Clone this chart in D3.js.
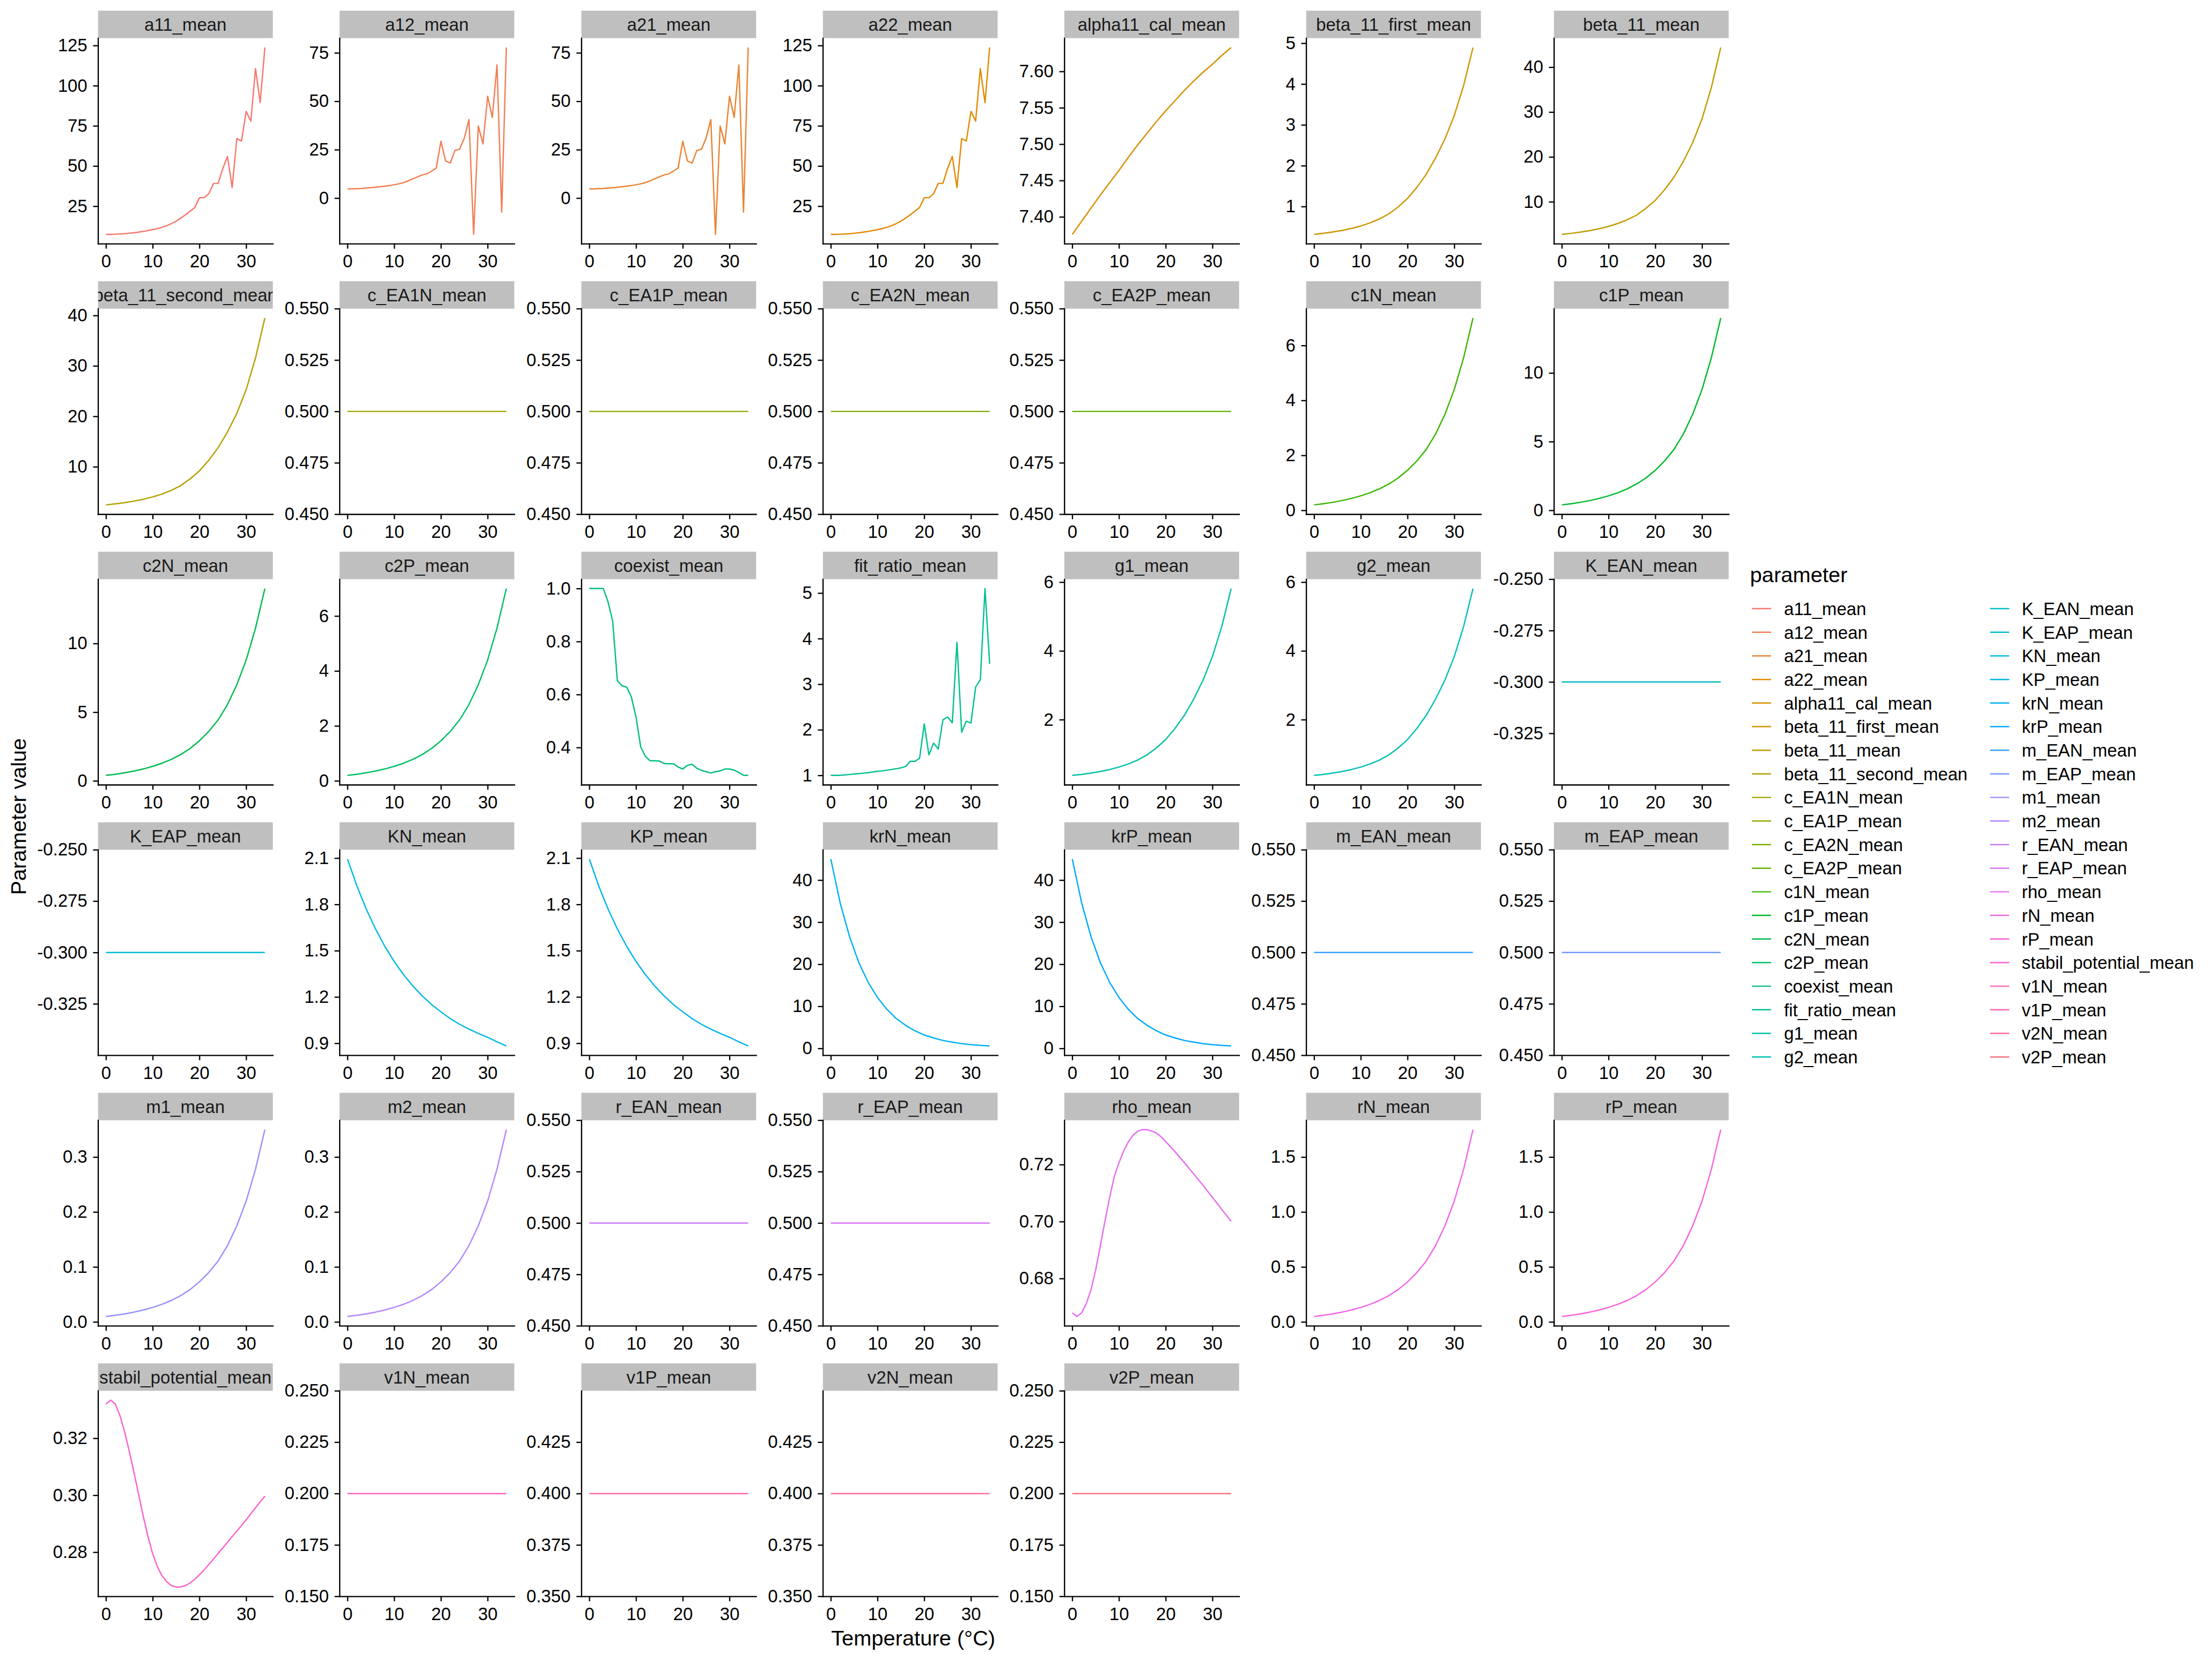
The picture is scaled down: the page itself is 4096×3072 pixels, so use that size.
<!DOCTYPE html>
<html><head><meta charset="utf-8">
<script src="https://cdn.jsdelivr.net/npm/d3@7"></script>
<style>body{margin:0;background:#fff} svg{display:block}</style>
</head><body>
<svg id="chart" width="4096" height="3072"></svg>
<script>
// ---------------- DATA ----------------
const T1 = [0,1,2,3,4,5,6,7,8,9,10,11,12,13,14,15,16,17,18,19,20,21,22,23,24,25,26,27,28,29,30,31,32,33,34];
const T2 = [0,2,4,6,8,10,12,14,16,18,20,22,24,26,28,30,32,34];
const Tc = [0,34];

const a11_mean = [7.5,7.5,7.6,7.7,7.9,8.2,8.5,8.9,9.3,9.9,10.4,11.1,11.9,12.9,14.2,15.7,17.6,19.7,21.9,24.2,30.3,30.3,32.8,39.2,39.2,48.5,56.0,36.6,67.1,65.6,84.0,78.0,110.6,89.5,123.8];
const a12_mean = [4.8,4.8,4.9,5.0,5.2,5.4,5.6,5.9,6.2,6.5,6.9,7.4,8.0,8.9,10.0,11.0,12.0,12.5,14.0,15.5,29.4,19.2,18.1,24.6,25.3,31.0,40.6,-18.7,37.3,28.0,52.6,41.7,68.8,-7.2,77.8];
const a21_mean = [4.8,4.8,4.9,5.0,5.2,5.4,5.6,5.9,6.2,6.5,6.9,7.4,8.0,8.9,10.0,11.0,12.0,12.5,14.0,15.5,29.4,19.2,18.1,24.6,25.3,31.0,40.6,-18.7,37.3,28.0,52.6,41.7,68.8,-7.2,77.8];
const a22_mean = [7.5,7.5,7.6,7.7,7.9,8.2,8.5,8.9,9.3,9.9,10.4,11.1,11.9,12.9,14.2,15.7,17.6,19.7,21.9,24.2,30.3,30.3,32.8,39.2,39.2,48.5,56.0,36.6,67.1,65.6,84.0,78.0,110.6,89.5,123.8];
const alpha11_cal_mean = [7.376,7.394,7.412,7.430,7.447,7.464,7.482,7.499,7.515,7.531,7.546,7.560,7.574,7.587,7.599,7.610,7.622,7.633];
const beta_11_first_mean = [0.32,0.346,0.378,0.416,0.464,0.525,0.602,0.698,0.822,0.992,1.2,1.472,1.792,2.192,2.656,3.232,3.968,4.896];
const beta_11_mean = [2.75,2.97,3.25,3.58,4.0,4.52,5.18,6.0,7.05,8.55,10.35,12.7,15.5,19.0,23.2,28.5,35.5,44.4];
const beta_11_second_mean = [2.45,2.65,2.9,3.2,3.57,4.03,4.6,5.35,6.28,7.6,9.2,11.3,13.8,16.9,20.6,25.3,31.6,39.5];
const c_EA1N_mean = [0.5,0.5];
const c_EA1P_mean = [0.5,0.5];
const c_EA2N_mean = [0.5,0.5];
const c_EA2P_mean = [0.5,0.5];
const c1N_mean = [0.2,0.242,0.294,0.358,0.436,0.53,0.644,0.784,0.96,1.18,1.46,1.8,2.22,2.78,3.5,4.4,5.56,7.0];
const c1P_mean = [0.4,0.484,0.588,0.716,0.872,1.06,1.288,1.568,1.92,2.36,2.92,3.6,4.44,5.56,7.0,8.8,11.12,14.0];
const c2N_mean = [0.4,0.484,0.588,0.716,0.872,1.06,1.288,1.568,1.92,2.36,2.92,3.6,4.44,5.56,7.0,8.8,11.12,14.0];
const c2P_mean = [0.2,0.242,0.294,0.358,0.436,0.53,0.644,0.784,0.96,1.18,1.46,1.8,2.22,2.78,3.5,4.4,5.56,7.0];
const coexist_mean = [1.0,1.0,1.0,1.0,0.95,0.877,0.652,0.633,0.628,0.591,0.514,0.402,0.367,0.350,0.350,0.349,0.340,0.339,0.339,0.327,0.319,0.333,0.337,0.322,0.314,0.309,0.304,0.309,0.312,0.319,0.319,0.315,0.306,0.295,0.295];
const fit_ratio_mean = [1.0,1.0,1.005,1.01,1.02,1.03,1.04,1.05,1.06,1.075,1.09,1.10,1.115,1.13,1.145,1.165,1.195,1.31,1.31,1.375,2.13,1.45,1.71,1.58,2.22,2.28,2.155,3.92,1.95,2.19,2.15,2.94,3.10,5.10,3.45];
const g1_mean = [0.38,0.41,0.448,0.494,0.551,0.623,0.714,0.828,0.977,1.178,1.425,1.748,2.128,2.603,3.154,3.838,4.712,5.814];
const g2_mean = [0.38,0.41,0.448,0.494,0.551,0.623,0.714,0.828,0.977,1.178,1.425,1.748,2.128,2.603,3.154,3.838,4.712,5.814];
const K_EAN_mean = [-0.3,-0.3];
const K_EAP_mean = [-0.3,-0.3];
const KN_mean = [2.094,1.921,1.771,1.641,1.528,1.430,1.345,1.271,1.207,1.151,1.104,1.060,1.023,0.992,0.964,0.939,0.910,0.883];
const KP_mean = [2.094,1.921,1.771,1.641,1.528,1.430,1.345,1.271,1.207,1.151,1.104,1.060,1.023,0.992,0.964,0.939,0.910,0.883];
const krN_mean = [45.0,34.6,26.6,20.4,15.7,12.1,9.3,7.1,5.5,4.2,3.2,2.5,1.9,1.5,1.15,0.9,0.72,0.6];
const krP_mean = [45.0,34.6,26.6,20.4,15.7,12.1,9.3,7.1,5.5,4.2,3.2,2.5,1.9,1.5,1.15,0.9,0.72,0.6];
const m_EAN_mean = [0.5,0.5];
const m_EAP_mean = [0.5,0.5];
const m1_mean = [0.01,0.0121,0.0147,0.0179,0.0218,0.0265,0.0322,0.0392,0.048,0.059,0.073,0.09,0.111,0.139,0.175,0.22,0.278,0.35];
const m2_mean = [0.01,0.0121,0.0147,0.0179,0.0218,0.0265,0.0322,0.0392,0.048,0.059,0.073,0.09,0.111,0.139,0.175,0.22,0.278,0.35];
const r_EAN_mean = [0.5,0.5];
const r_EAP_mean = [0.5,0.5];
const rho_mean = [0.668,0.6667,0.668,0.6712,0.6760,0.6830,0.6915,0.7002,0.7085,0.7159,0.7207,0.7248,0.7280,0.7303,0.7317,0.7323,0.7323,0.7318,0.7311,0.7298,0.7281,0.7263,0.7245,0.7226,0.7207,0.7187,0.7167,0.7147,0.7127,0.7106,0.7085,0.7064,0.7043,0.7022,0.7001];
const rN_mean = [0.05,0.0605,0.0735,0.0895,0.109,0.1325,0.161,0.196,0.24,0.295,0.365,0.45,0.555,0.695,0.875,1.1,1.39,1.75];
const rP_mean = [0.05,0.0605,0.0735,0.0895,0.109,0.1325,0.161,0.196,0.24,0.295,0.365,0.45,0.555,0.695,0.875,1.1,1.39,1.75];
const stabil_potential_mean = [0.3320,0.3334,0.3320,0.3279,0.3222,0.3153,0.3079,0.3002,0.2924,0.2854,0.2794,0.2749,0.2717,0.2696,0.2683,0.2678,0.2678,0.2683,0.2692,0.2705,0.2721,0.2738,0.2757,0.2776,0.2796,0.2815,0.2835,0.2855,0.2874,0.2894,0.2914,0.2935,0.2956,0.2977,0.2997];
const v1N_mean = [0.2,0.2];
const v1P_mean = [0.4,0.4];
const v2N_mean = [0.4,0.4];
const v2P_mean = [0.2,0.2];

// tick labels
const xTicks = [0,10,20,30];
const ticks_a11 = ["25","50","75","100","125"];
const ticks_a12 = ["0","25","50","75"];
const ticks_alpha = ["7.40","7.45","7.50","7.55","7.60"];
const ticks_beta1 = ["1","2","3","4","5"];
const ticks_beta = ["10","20","30","40"];
const ticks_half = ["0.450","0.475","0.500","0.525","0.550"];
const ticks_c1N = ["0","2","4","6"];
const ticks_c1P = ["0","5","10"];
const ticks_coexist = ["0.4","0.6","0.8","1.0"];
const ticks_fit = ["1","2","3","4","5"];
const ticks_g = ["2","4","6"];
const ticks_K = ["-0.325","-0.300","-0.275","-0.250"];
const ticks_KN = ["0.9","1.2","1.5","1.8","2.1"];
const ticks_kr = ["0","10","20","30","40"];
const ticks_m = ["0.0","0.1","0.2","0.3"];
const ticks_rho = ["0.68","0.70","0.72"];
const ticks_r = ["0.0","0.5","1.0","1.5"];
const ticks_stabil = ["0.28","0.30","0.32"];
const ticks_v02 = ["0.150","0.175","0.200","0.225","0.250"];
const ticks_v04 = ["0.350","0.375","0.400","0.425"];

const parameters = ["a11_mean","a12_mean","a21_mean","a22_mean","alpha11_cal_mean","beta_11_first_mean","beta_11_mean","beta_11_second_mean","c_EA1N_mean","c_EA1P_mean","c_EA2N_mean","c_EA2P_mean","c1N_mean","c1P_mean","c2N_mean","c2P_mean","coexist_mean","fit_ratio_mean","g1_mean","g2_mean","K_EAN_mean","K_EAP_mean","KN_mean","KP_mean","krN_mean","krP_mean","m_EAN_mean","m_EAP_mean","m1_mean","m2_mean","r_EAN_mean","r_EAP_mean","rho_mean","rN_mean","rP_mean","stabil_potential_mean","v1N_mean","v1P_mean","v2N_mean","v2P_mean"];

// table built from the arrays above (same order as parameters)
const panels = [
  [T1,a11_mean,ticks_a11],[T1,a12_mean,ticks_a12],[T1,a21_mean,ticks_a12],[T1,a22_mean,ticks_a11],
  [T2,alpha11_cal_mean,ticks_alpha],[T2,beta_11_first_mean,ticks_beta1],[T2,beta_11_mean,ticks_beta],
  [T2,beta_11_second_mean,ticks_beta],[Tc,c_EA1N_mean,ticks_half],[Tc,c_EA1P_mean,ticks_half],
  [Tc,c_EA2N_mean,ticks_half],[Tc,c_EA2P_mean,ticks_half],[T2,c1N_mean,ticks_c1N],[T2,c1P_mean,ticks_c1P],
  [T2,c2N_mean,ticks_c1P],[T2,c2P_mean,ticks_c1N],[T1,coexist_mean,ticks_coexist],[T1,fit_ratio_mean,ticks_fit],
  [T2,g1_mean,ticks_g],[T2,g2_mean,ticks_g],[Tc,K_EAN_mean,ticks_K],[Tc,K_EAP_mean,ticks_K],
  [T2,KN_mean,ticks_KN],[T2,KP_mean,ticks_KN],[T2,krN_mean,ticks_kr],[T2,krP_mean,ticks_kr],
  [Tc,m_EAN_mean,ticks_half],[Tc,m_EAP_mean,ticks_half],[T2,m1_mean,ticks_m],[T2,m2_mean,ticks_m],
  [Tc,r_EAN_mean,ticks_half],[Tc,r_EAP_mean,ticks_half],[T1,rho_mean,ticks_rho],[T2,rN_mean,ticks_r],
  [T2,rP_mean,ticks_r],[T1,stabil_potential_mean,ticks_stabil],[Tc,v1N_mean,ticks_v02],[Tc,v1P_mean,ticks_v04],
  [Tc,v2N_mean,ticks_v04],[Tc,v2P_mean,ticks_v02]
].map((p,i)=>({name:parameters[i], xs:p[0], ys:p[1], ticks:p[2]}));

// ---------------- STYLE / LAYOUT (reference px, scaled) ----------------
const S = 4096/6000;
const FONT = "'Liberation Sans', Arial, Helvetica, sans-serif";
const colLeft = [266, 921, 1577, 2232, 2887, 3543, 4215];
const panelW = 474, rowPitch = 733.8, firstTop = 29, stripH = 74.5, panelBottomOff = 632;
const LW = 3.4;

// ggplot-like hue palette (polar LUV -> sRGB)
function hclHex(h, c, l) {
  const hr = h*Math.PI/180;
  const U = c*Math.cos(hr), V = c*Math.sin(hr);
  const Y = l > 8 ? 100*Math.pow((l+16)/116,3) : 100*l/903.3;
  const un = 0.1978398, vn = 0.4683363;
  const u = U/(13*l)+un, v = V/(13*l)+vn;
  const X = 9*Y*u/(4*v);
  const Z = -X/3 - 5*Y + 3*Y/v;
  const x=X/100, y=Y/100, z=Z/100;
  const lin = [
    3.240479*x - 1.537150*y - 0.498535*z,
    -0.969256*x + 1.875992*y + 0.041556*z,
    0.055648*x - 0.204043*y + 1.057311*z];
  const gam = t => t<=0.0031308 ? 12.92*t : 1.055*Math.pow(t,1/2.4)-0.055;
  const [r,g,b] = lin.map(t => Math.round(255*Math.max(0,Math.min(1,gam(t)))));
  return d3.rgb(r,g,b).formatHex();
}
const nP = parameters.length;
const colors = parameters.map((_,i)=> hclHex((15 + i*360/nP) % 360, 100, 65));
const color = d3.scaleOrdinal().domain(parameters).range(colors);

const svg = d3.select("#chart");
svg.append("rect").attr("width",4096).attr("height",3072).attr("fill","#fff");
const root = svg.append("g").attr("transform",`scale(${S})`);
const defs = svg.append("defs");

panels.forEach((p,i)=>{
  const row = Math.floor(i/7), col = i%7;
  const left = colLeft[col];
  const sTop = firstTop + row*rowPitch;
  const pTop = sTop + stripH;
  const pBot = sTop + panelBottomOff;
  const g = root.append("g");

  const x = d3.scaleLinear().domain([-1.7, 35.7]).range([left, left+panelW]);
  const ext = d3.extent(p.ys);
  let dom;
  if (ext[0] === ext[1]) dom = [ext[0]-0.05, ext[1]+0.05];
  else { const pad = (ext[1]-ext[0])*0.05; dom = [ext[0]-pad, ext[1]+pad]; }
  const y = d3.scaleLinear().domain(dom).range([pBot, pTop]);

  // strip
  const cid = "clipS"+i;
  defs.append("clipPath").attr("id",cid).attr("clipPathUnits","userSpaceOnUse")
    .append("rect").attr("x",left).attr("y",sTop).attr("width",panelW).attr("height",stripH);
  g.append("rect").attr("x",left).attr("y",sTop).attr("width",panelW).attr("height",stripH).attr("fill","#BFBFBF");
  g.append("text").attr("clip-path",`url(#${cid})`)
    .attr("x",left+panelW/2).attr("y",sTop+stripH/2).attr("dy","0.36em")
    .attr("text-anchor","middle").attr("font-family",FONT).attr("font-size",48).attr("fill","#1A1A1A")
    .text(p.name);

  // data line
  const pid = "clipP"+i;
  defs.append("clipPath").attr("id",pid).attr("clipPathUnits","userSpaceOnUse")
    .append("rect").attr("x",left).attr("y",pTop).attr("width",panelW).attr("height",pBot-pTop);
  const pts = d3.zip(p.xs, p.ys);
  g.append("path").attr("clip-path",`url(#${pid})`).datum(pts)
    .attr("fill","none").attr("stroke",color(p.name)).attr("stroke-width",3.6)
    .attr("stroke-linejoin","round")
    .attr("d", d3.line().x(d=>x(d[0])).y(d=>y(d[1])));

  // axes
  const tv = p.ticks.map(Number);
  const ay = g.append("g").attr("transform",`translate(${left},0)`)
    .call(d3.axisLeft(y).tickValues(tv).tickFormat((d,k)=>p.ticks[k]).tickSize(13.5).tickSizeOuter(0).tickPadding(15.5));
  const ax = g.append("g").attr("transform",`translate(0,${pBot})`)
    .call(d3.axisBottom(x).tickValues(xTicks).tickFormat(d3.format("d")).tickSize(13.5).tickSizeOuter(0).tickPadding(17));
  [ay,ax].forEach(a=>{
    a.attr("font-family",FONT).attr("font-size",48);
    a.select(".domain").attr("stroke","#000").attr("stroke-width",LW).attr("stroke-linecap","square");
    a.selectAll(".tick line").attr("stroke","#000").attr("stroke-width",LW);
    a.selectAll(".tick text").attr("fill","#000");
  });
});

// axis titles
root.append("text").attr("x",2477).attr("y",4463).attr("text-anchor","middle")
  .attr("font-family",FONT).attr("font-size",58).attr("fill","#000").text("Temperature (°C)");
root.append("text").attr("transform","translate(71,2215) rotate(-90)").attr("text-anchor","middle")
  .attr("font-family",FONT).attr("font-size",58).attr("fill","#000").text("Parameter value");

// legend
const lg = root.append("g");
lg.append("text").attr("x",4747).attr("y",1579).attr("font-family",FONT).attr("font-size",58).attr("fill","#000").text("parameter");
const keyX = [4752, 5398], labX = [4839, 5484];
parameters.forEach((nm,i)=>{
  const c = Math.floor(i/20), r = i%20;
  const cy = 1651 + r*64;
  lg.append("line").attr("x1",keyX[c]).attr("x2",keyX[c]+52).attr("y1",cy).attr("y2",cy)
    .attr("stroke",color(nm)).attr("stroke-width",3.6);
  lg.append("text").attr("x",labX[c]).attr("y",cy).attr("dy","0.36em")
    .attr("font-family",FONT).attr("font-size",48).attr("fill","#000").text(nm);
});
</script>
</body></html>
